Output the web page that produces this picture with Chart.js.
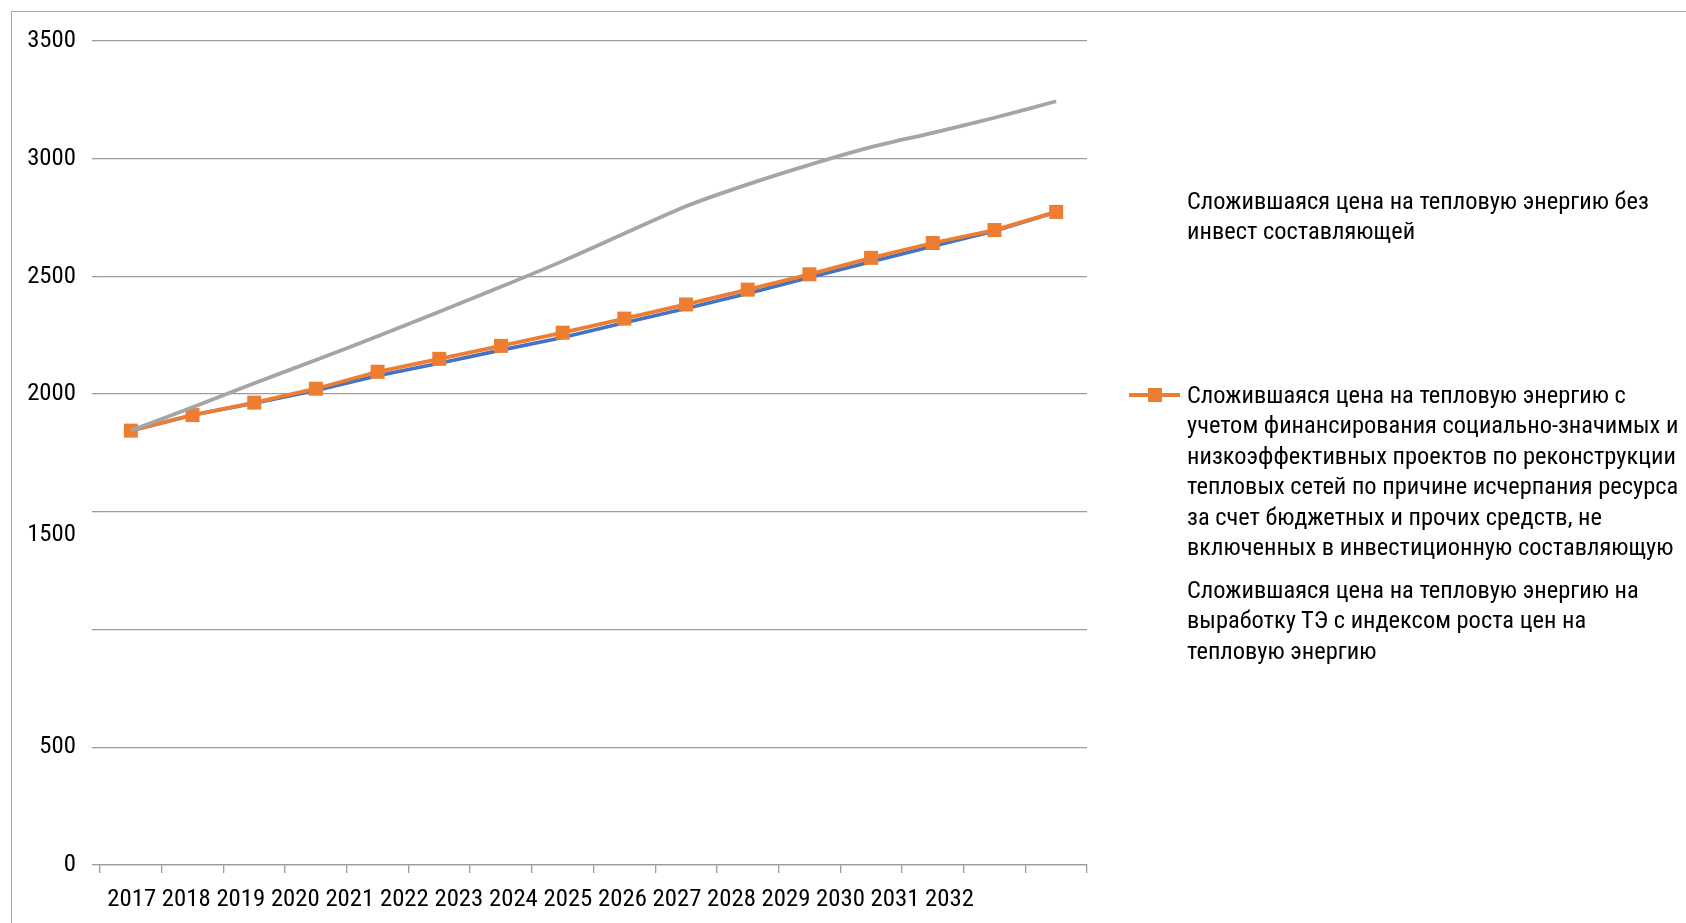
<!DOCTYPE html>
<html lang="ru">
<head>
<meta charset="utf-8">
<title>Цена на тепловую энергию</title>
<script src="https://cdn.jsdelivr.net/npm/chart.js@4.4.1/dist/chart.umd.min.js"></script>
<style>
  html, body { margin: 0; padding: 0; background: #fff; }
  body {
    width: 1686px; height: 923px; position: relative; overflow: hidden;
    font-family: Roboto, "Liberation Sans", sans-serif; font-stretch: condensed;
  }
  .frame { position: absolute; left: 11px; top: 11px; right: -10px; bottom: -10px; border: 1.5px solid #a6a6a6; }
  #chart { position: absolute; left: 0; top: 0; }
  .legend-item {
    position: absolute; left: 1187px; line-height: 30.5px;
    color: #000; white-space: nowrap;
  }
  .legend-key { position: absolute; left: -58px; top: 13.5px; width: 51px; height: 3.5px; }
  .legend-key span { position: absolute; left: 19px; top: -5.25px; width: 14px; height: 14px; }
</style>
</head>
<body>
<div class="frame"></div>
<canvas id="chart" width="1686" height="923"></canvas>
<div id="legend"></div>
<script>
const FONT = 'Roboto, "Liberation Sans", sans-serif';
const STRETCH = 'condensed';

// годы
const years = ['2017', '2018', '2019', '2020', '2021', '2022', '2023', '2024',
               '2025', '2026', '2027', '2028', '2029', '2030', '2031', '2032'];

// цена без инвест составляющей
const priceBase = [1845, 1911, 1961, 2015, 2078, 2131, 2187, 2241,
                   2303, 2364, 2427, 2495, 2562, 2628, 2693, 2774];
// цена с учетом финансирования проектов за счет бюджетных средств
const priceProjects = [1845, 1911, 1964, 2023, 2095, 2150, 2205, 2261,
                       2321, 2381, 2444, 2509, 2579, 2642, 2697, 2774];
// цена с индексом роста цен
const priceIndexed = [1845, 1944, 2046, 2145, 2246, 2350, 2456, 2565,
                      2682, 2798, 2891, 2974, 3049, 3110, 3174, 3244];

// подписи оси Y (1000 не подписано)
const yLabelValues = [0, 500, 1500, 2000, 2500, 3000, 3500];

const seriesNames = [
  ['Сложившаяся цена на тепловую энергию без', 'инвест составляющей'],
  ['Сложившаяся цена на тепловую энергию с',
   'учетом финансирования социально-значимых и',
   'низкоэффективных проектов по реконструкции',
   'тепловых сетей по причине исчерпания ресурса',
   'за счет бюджетных и прочих средств, не',
   'включенных в инвестиционную составляющую'],
  ['Сложившаяся цена на тепловую энергию на',
   'выработку ТЭ с индексом роста цен на',
   'тепловую энергию']
];

const colors = ['#4472c4', '#ed7d31', '#a5a5a5'];
const gridColor = '#9c9c9c';

// размер шрифта, при котором строка занимает заданную ширину
function fitFontSize(text, width) {
  const ctx = document.createElement('canvas').getContext('2d');
  ctx.font = STRETCH + ' 100px ' + FONT;
  return 100 * width / ctx.measureText(text).width;
}

const tickSize = fitFontSize(years.join(' '), 867);
const legendSize = fitFontSize(seriesNames[0][0], 462);

const chart = new Chart(document.getElementById('chart'), {
  type: 'line',
  data: {
    labels: years,
    datasets: [
      {
        label: seriesNames[0].join(' '),
        data: priceBase,
        borderColor: colors[0],
        borderWidth: 3.6,
        pointRadius: 0,
        order: 2
      },
      {
        label: seriesNames[1].join(' '),
        data: priceProjects,
        borderColor: colors[1],
        backgroundColor: colors[1],
        borderWidth: 3.8,
        pointStyle: 'rect',
        pointRadius: 9.9,
        pointBorderWidth: 0,
        order: 1
      },
      {
        label: seriesNames[2].join(' '),
        data: priceIndexed,
        borderColor: colors[2],
        borderWidth: 3.8,
        pointRadius: 0,
        tension: 0.25,
        order: 0
      }
    ]
  },
  options: {
    responsive: false,
    animation: false,
    layout: { padding: { left: 0, top: 41, right: 599, bottom: 0 } },
    plugins: { legend: { display: false }, tooltip: { enabled: false } },
    scales: {
      x: {
        offset: true,
        afterFit: (scale) => { scale.height = 58; },
        grid: { offset: true, drawOnChartArea: false, tickLength: 8, color: gridColor, lineWidth: 1.3 },
        border: { color: gridColor, width: 1.3 },
        ticks: {
          autoSkip: false,
          maxRotation: 0,
          minRotation: 0,
          align: 'start',
          labelOffset: -23.5,
          padding: 26.5 - tickSize * 0.6,
          color: '#000',
          font: { family: FONT, weight: STRETCH, size: tickSize, lineHeight: 1.2 },
          // все годы выводятся одной строкой от первой категории
          callback: (v, i) => i === 0 ? years.join(' ') : ''
        }
      },
      y: {
        min: 0,
        max: 3500,
        afterFit: (scale) => { scale.width = 100; },
        grid: { color: gridColor, lineWidth: 1.3, tickLength: 8 },
        border: { display: false },
        ticks: {
          stepSize: 500,
          padding: 16,
          color: '#000',
          font: (ctx) => ({
            family: FONT,
            weight: STRETCH,
            size: tickSize,
            lineHeight: ctx.tick && ctx.tick.value === 1500 ? 46 / tickSize : 1.2
          }),
          callback: (v) => {
            if (!yLabelValues.includes(v)) return '';
            return v === 1500 ? ['', String(v)] : String(v);
          }
        }
      }
    }
  }
});

// легенда справа: маркер только у второго ряда
const legendTops = [185.75, 379.75, 574.75];
const legend = document.getElementById('legend');
seriesNames.forEach((lines, i) => {
  const item = document.createElement('div');
  item.className = 'legend-item';
  item.style.top = legendTops[i] + 'px';
  item.style.fontSize = legendSize + 'px';
  if (i === 1) {
    const key = document.createElement('div');
    key.className = 'legend-key';
    key.style.background = colors[i];
    const sq = document.createElement('span');
    sq.style.background = colors[i];
    key.appendChild(sq);
    item.appendChild(key);
  }
  lines.forEach((line, j) => {
    if (j > 0) item.appendChild(document.createElement('br'));
    item.appendChild(document.createTextNode(line));
  });
  legend.appendChild(item);
});
</script>
</body>
</html>
